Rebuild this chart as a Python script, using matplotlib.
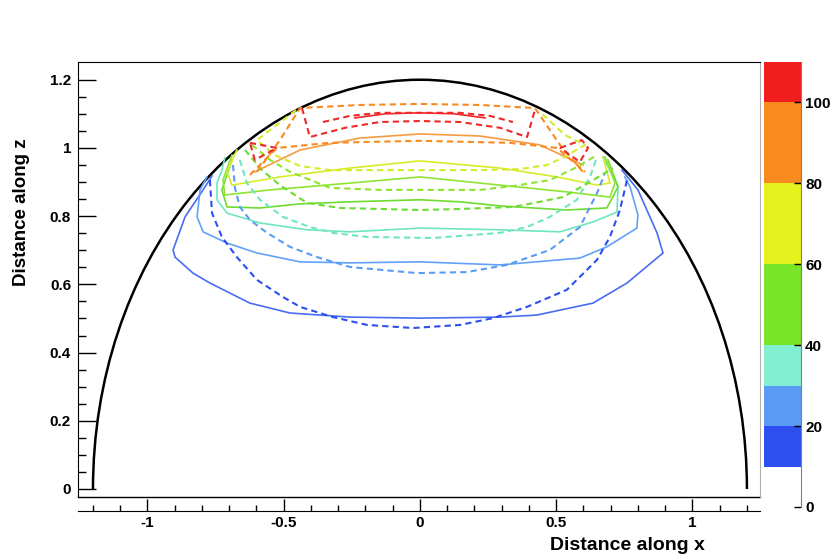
import matplotlib
matplotlib.use("Agg")
import matplotlib.pyplot as plt
from matplotlib.patches import Arc

plt.rcParams['font.family'] = ['Liberation Sans', 'DejaVu Sans']
plt.rcParams['axes.unicode_minus'] = False

# DATA

boundary_radius = 1.2

# colour scale levels (z axis of the palette)
palette_levels = [10, 20, 30, 40, 60, 80, 100, 110]
palette_colors = ['#2d4ff0', '#5a9cf5', '#80f0d0', '#78e628', '#e6f01e', '#f88a1e', '#f01e1e']

# solid contours (first data set)
blue_solid_x = [-0.763, -0.796, -0.862, -0.906, -0.899, -0.833, -0.771, -0.624, -0.477, -0.257, 0.0,
                0.294, 0.429, 0.635, 0.760, 0.892, 0.870, 0.800, 0.771, 0.741]
blue_solid_z = [0.918, 0.877, 0.798, 0.701, 0.680, 0.633, 0.604, 0.545, 0.516, 0.504, 0.501,
                0.504, 0.510, 0.545, 0.604, 0.692, 0.751, 0.877, 0.906, 0.935]

lblue_solid_x = [-0.782, -0.807, -0.818, -0.796, -0.708, -0.598, -0.440, -0.257, 0.0, 0.294, 0.587,
                 0.686, 0.796, 0.800, 0.771, 0.752]
lblue_solid_z = [0.915, 0.877, 0.798, 0.754, 0.721, 0.692, 0.666, 0.663, 0.666, 0.657, 0.677,
                 0.710, 0.765, 0.804, 0.886, 0.915]

aqua_solid_x = [-0.716, -0.727, -0.745, -0.745, -0.708, -0.587, -0.415, -0.257, 0.0, 0.294, 0.514,
                0.635, 0.723, 0.727, 0.697, 0.672]
aqua_solid_z = [0.971, 0.935, 0.897, 0.848, 0.809, 0.780, 0.760, 0.754, 0.765, 0.760, 0.754,
                0.783, 0.812, 0.886, 0.935, 0.974]

green_low_solid_x = [-0.690, -0.727, -0.708, -0.587, -0.440, -0.257, 0.0, 0.147, 0.294, 0.539, 0.686, 0.727, 0.690]
green_low_solid_z = [0.965, 0.877, 0.827, 0.824, 0.836, 0.842, 0.848, 0.842, 0.830, 0.818, 0.824, 0.886, 0.965]

green_up_solid_x = [-0.690, -0.723, -0.716, -0.550, -0.257, 0.0, 0.294, 0.539, 0.697, 0.716, 0.679]
green_up_solid_z = [0.979, 0.906, 0.862, 0.877, 0.897, 0.915, 0.891, 0.871, 0.856, 0.897, 0.974]

yellow_solid_x = [-0.672, -0.708, -0.690, -0.514, -0.257, 0.0, 0.294, 0.503, 0.650, 0.697, 0.672]
yellow_solid_z = [0.994, 0.930, 0.891, 0.915, 0.941, 0.962, 0.941, 0.915, 0.891, 0.897, 0.974]

orange_solid_x = [-0.606, -0.440, -0.220, 0.0, 0.220, 0.440, 0.598]
orange_solid_z = [0.930, 0.994, 1.029, 1.041, 1.035, 1.009, 0.950]

red_solid_x = [-0.239, -0.128, 0.0, 0.128, 0.239]
red_solid_z = [1.088, 1.100, 1.103, 1.100, 1.088]

# dashed contours (second data set)
blue_dash_x = [-0.771, -0.763, -0.727, -0.672, -0.598, -0.503, -0.440, -0.319, -0.194, -0.026, 0.147,
               0.268, 0.393, 0.539, 0.650, 0.697, 0.734, 0.760]
blue_dash_z = [0.906, 0.809, 0.739, 0.680, 0.613, 0.563, 0.534, 0.504, 0.481, 0.472, 0.481,
               0.501, 0.534, 0.584, 0.672, 0.739, 0.818, 0.906]

lblue_dash_x = [-0.686, -0.679, -0.661, -0.624, -0.561, -0.477, -0.378, -0.257, -0.011, 0.172, 0.319,
                0.477, 0.587, 0.650, 0.679]
lblue_dash_z = [0.950, 0.883, 0.827, 0.789, 0.751, 0.710, 0.680, 0.651, 0.633, 0.636, 0.657,
                0.701, 0.768, 0.868, 0.927]

aqua_dash_x = [-0.661, -0.635, -0.587, -0.503, -0.404, -0.319, -0.194, 0.048, 0.294, 0.393, 0.477,
               0.576, 0.624, 0.650]
aqua_dash_z = [0.965, 0.897, 0.848, 0.798, 0.768, 0.751, 0.739, 0.736, 0.751, 0.768, 0.798,
               0.848, 0.915, 0.974]

green_low_dash_x = [-0.642, -0.580, -0.514, -0.415, -0.294, -0.147, 0.0, 0.147, 0.341, 0.440, 0.525, 0.624, 0.708]
green_low_dash_z = [0.994, 0.935, 0.891, 0.839, 0.824, 0.821, 0.818, 0.821, 0.827, 0.842, 0.856, 0.900, 0.941]

green_up_dash_x = [-0.617, -0.550, -0.477, -0.330, -0.147, 0.0, 0.220, 0.349, 0.477, 0.569, 0.650]
green_up_dash_z = [1.009, 0.965, 0.930, 0.883, 0.877, 0.877, 0.877, 0.889, 0.906, 0.941, 0.979]

yellow_dash_x = [-0.455, -0.539, -0.598, -0.532, -0.440, -0.330, 0.0, 0.220, 0.367, 0.466, 0.532, 0.606, 0.532, 0.440]
yellow_dash_z = [1.111, 1.059, 1.023, 0.979, 0.947, 0.935, 0.935, 0.935, 0.938, 0.950, 0.974, 1.009, 1.038, 1.106]

orange_low_dash_x = [-0.624, -0.525, -0.330, 0.0, 0.330, 0.503, 0.606]
orange_low_dash_z = [0.921, 1.000, 1.015, 1.021, 1.015, 1.000, 0.930]

orange_up_dash_x = [-0.598, -0.514, -0.440, -0.220, 0.0, 0.220, 0.422, 0.514, 0.598]
orange_up_dash_z = [0.930, 1.023, 1.117, 1.126, 1.129, 1.126, 1.117, 1.009, 0.930]

red_dash_x = [-0.433, -0.404, -0.275, -0.147, 0.0, 0.147, 0.294, 0.393, 0.422]
red_dash_z = [1.117, 1.032, 1.059, 1.076, 1.079, 1.076, 1.059, 1.032, 1.111]

red_inner_dash_x = [-0.356, -0.257, -0.147, 0.147, 0.257, 0.341]
red_inner_dash_z = [1.076, 1.094, 1.103, 1.103, 1.094, 1.076]

red_left_loop_x = [-0.624, -0.525, -0.606, -0.624]
red_left_loop_z = [1.015, 1.000, 0.965, 1.015]

red_right_loop_x = [0.514, 0.594, 0.617, 0.587, 0.514]
red_right_loop_z = [1.000, 1.023, 1.000, 0.959, 1.000]

x_major = [-1, -0.5, 0, 0.5, 1]
x_major_labels = ['-1', '-0.5', '0', '0.5', '1']
z_major = [0, 0.2, 0.4, 0.6, 0.8, 1.0, 1.2]
z_major_labels = ['0', '0.2', '0.4', '0.6', '0.8', '1', '1.2']
palette_ticks = [0, 20, 40, 60, 80, 100]


#PLOT

W, H = 836, 560
fig = plt.figure(figsize=(W / 100, H / 100), dpi=100)

ax = fig.add_axes([78 / W, (H - 497) / H, (760 - 78) / W, (497 - 62) / H])
ax.set_xlim(-1.255, 1.248)
ax.set_ylim(-0.0235, 1.252)

solid_lines = [
    (blue_solid_x, blue_solid_z, '#4a6cf0'),
    (lblue_solid_x, lblue_solid_z, '#62a2f6'),
    (aqua_solid_x, aqua_solid_z, '#6fe6c0'),
    (green_low_solid_x, green_low_solid_z, '#6edc30'),
    (green_up_solid_x, green_up_solid_z, '#8fe432'),
    (yellow_solid_x, yellow_solid_z, '#d6ec28'),
    (orange_solid_x, orange_solid_z, '#f59a40'),
    (red_solid_x, red_solid_z, '#f02828'),
]
for xs, zs, c in solid_lines:
    ax.plot(xs, zs, color=c, lw=1.2, solid_joinstyle='miter')

dashed_lines = [
    (blue_dash_x, blue_dash_z, '#2d4ff0'),
    (lblue_dash_x, lblue_dash_z, '#5a9cf5'),
    (aqua_dash_x, aqua_dash_z, '#6fe6c0'),
    (green_low_dash_x, green_low_dash_z, '#6edc30'),
    (green_up_dash_x, green_up_dash_z, '#8fe432'),
    (yellow_dash_x, yellow_dash_z, '#d6ec28'),
    (orange_low_dash_x, orange_low_dash_z, '#f88a1e'),
    (orange_up_dash_x, orange_up_dash_z, '#f88a1e'),
    (red_dash_x, red_dash_z, '#f02828'),
    (red_inner_dash_x, red_inner_dash_z, '#f02828'),
    (red_left_loop_x, red_left_loop_z, '#f02828'),
    (red_right_loop_x, red_right_loop_z, '#f02828'),
]
for xs, zs, c in dashed_lines:
    ax.plot(xs, zs, color=c, lw=1.5, dashes=(3, 2))

ax.add_patch(Arc((0, 0), 2 * boundary_radius, 2 * boundary_radius, theta1=0, theta2=180,
                 color='black', lw=1.8))

# frame
ax.spines['top'].set_color('black')
ax.spines['left'].set_color('black')
ax.spines['right'].set_color('#b0b0b0')
ax.spines['bottom'].set_position(('outward', 10))
ax.plot([0, 1], [0, 0], transform=ax.transAxes, color='black', lw=1.0, clip_on=False)

ax.set_xticks(x_major)
ax.set_xticklabels(x_major_labels)
ax.set_xticks([v / 10 for v in range(-12, 13)], minor=True)
ax.set_yticks(z_major)
ax.set_yticklabels(z_major_labels)
ax.set_yticks([v / 20 for v in range(0, 25)], minor=True)

ax.tick_params(axis='x', which='major', direction='in', length=9, width=1, pad=4)
ax.tick_params(axis='x', which='minor', direction='in', length=4.5, width=1)
ax.tick_params(axis='y', which='major', direction='in', length=13, width=1, pad=5)
ax.tick_params(axis='y', which='minor', direction='in', length=6, width=1)
for lab in ax.get_xticklabels() + ax.get_yticklabels():
    lab.set_fontweight('bold')
    lab.set_fontsize(11)

fig.text(705 / W, 1 - 545 / H, 'Distance along x', ha='right', va='center',
         fontweight='bold', fontsize=14)
fig.text(22 / W, 1 - 138 / H, 'Distance along z', rotation=90, ha='center', va='top',
         fontweight='bold', fontsize=13.5)

# palette
cax = fig.add_axes([764 / W, (H - 507) / H, (801 - 764) / W, (507 - 62) / H])
for lo, hi, c in zip(palette_levels[:-1], palette_levels[1:], palette_colors):
    cax.bar(0.5, hi - lo, bottom=lo, width=1.0, color=c, edgecolor='none')
cax.set_xlim(0, 1)
cax.set_ylim(0, 110)
cax.set_xticks([])
for s in ['top', 'left', 'bottom']:
    cax.spines[s].set_visible(False)
cax.spines['right'].set_color('#808080')
cax.yaxis.tick_right()
cax.set_yticks(palette_ticks)
cax.tick_params(axis='y', direction='in', length=5, width=1, pad=3, labelsize=11)
for lab in cax.get_yticklabels():
    lab.set_fontweight('bold')

fig.savefig('out.png', dpi=100)
